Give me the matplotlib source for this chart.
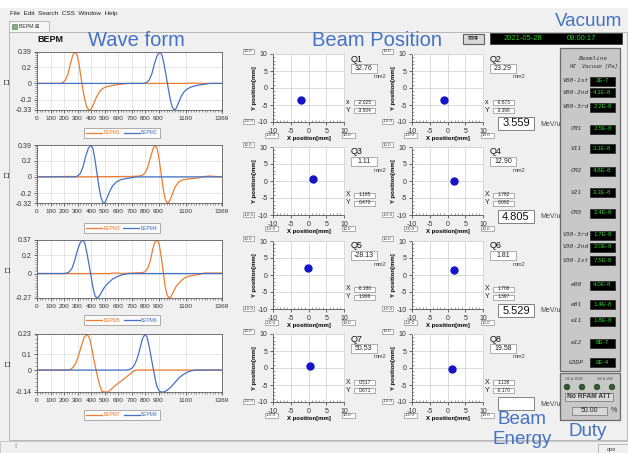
import matplotlib
matplotlib.use("Agg")
import matplotlib.pyplot as plt
from matplotlib.patches import Rectangle, Circle
from matplotlib.ticker import MultipleLocator

W, H = 628, 453

plt.rcParams['font.family'] = ['Liberation Sans', 'DejaVu Sans', 'Noto Sans CJK JP']
plt.rcParams['axes.unicode_minus'] = False

waveXMax = 1369
waveXTicks = [0, 100, 200, 300, 400, 500, 600, 700, 800, 900, 1100, 1369]

bepm1X = [0, 170, 190, 210, 230, 250, 265, 280, 295, 310, 325, 340, 355, 370, 385, 400, 420, 440, 460, 480, 500, 530, 560, 600, 640, 680, 1100, 1150, 1200, 1369]
bepm1Y = [0, 0, 0.01, 0.04, 0.12, 0.26, 0.35, 0.39, 0.36, 0.25, 0.08, -0.08, -0.21, -0.30, -0.33, -0.32, -0.25, -0.17, -0.11, -0.07, -0.05, -0.035, -0.025, -0.015, -0.005, 0, 0, 0.005, 0, 0]
bepm2X = [0, 790, 810, 830, 850, 870, 890, 910, 925, 940, 955, 970, 985, 1000, 1015, 1030, 1050, 1070, 1090, 1110, 1140, 1170, 1200, 1240, 1280, 1369]
bepm2Y = [0, 0, 0.01, 0.04, 0.12, 0.25, 0.35, 0.39, 0.35, 0.24, 0.10, -0.05, -0.19, -0.29, -0.33, -0.31, -0.23, -0.15, -0.10, -0.07, -0.045, -0.03, -0.02, -0.01, 0, 0]

bepm3X = [0, 250, 300, 700, 760, 780, 800, 820, 840, 860, 875, 890, 905, 920, 935, 950, 965, 980, 1000, 1020, 1050, 1080, 1120, 1160, 1200, 1240, 1280, 1320, 1369]
bepm3Y = [0, 0.005, 0, 0.005, 0.01, 0.02, 0.05, 0.12, 0.24, 0.35, 0.39, 0.34, 0.20, 0.02, -0.16, -0.28, -0.32, -0.30, -0.22, -0.13, -0.06, -0.035, -0.025, -0.02, -0.01, 0.005, 0.01, 0.005, 0]
bepm4X = [0, 280, 300, 320, 340, 360, 380, 400, 415, 430, 445, 460, 475, 490, 505, 520, 540, 560, 590, 620, 660, 700, 740, 1369]
bepm4Y = [0, 0, 0.01, 0.04, 0.12, 0.25, 0.35, 0.39, 0.34, 0.20, 0.03, -0.14, -0.26, -0.32, -0.31, -0.25, -0.17, -0.11, -0.06, -0.035, -0.02, -0.01, 0, 0]

bepm5X = [0, 540, 560, 600, 620, 700, 780, 800, 820, 840, 855, 870, 888, 903, 918, 933, 948, 963, 978, 990, 1010, 1030, 1060, 1090, 1120, 1160, 1200, 1240, 1369]
bepm5Y = [0, 0, 0.005, 0.005, 0, 0.005, 0.01, 0.02, 0.06, 0.15, 0.26, 0.34, 0.37, 0.33, 0.20, 0.03, -0.14, -0.24, -0.27, -0.26, -0.20, -0.14, -0.09, -0.05, -0.03, -0.02, -0.01, 0.005, 0.005]
bepm6X = [0, 200, 220, 240, 260, 280, 300, 320, 340, 355, 370, 385, 400, 415, 430, 445, 460, 480, 500, 530, 560, 600, 640, 680, 1369]
bepm6Y = [0, 0, 0.005, 0.02, 0.06, 0.15, 0.26, 0.34, 0.37, 0.33, 0.22, 0.10, -0.03, -0.16, -0.25, -0.27, -0.25, -0.20, -0.15, -0.10, -0.06, -0.03, -0.01, 0, 0]

bepm7X = [0, 230, 250, 270, 290, 310, 330, 350, 370, 390, 405, 420, 435, 450, 465, 480, 500, 525, 545, 570, 600, 630, 660, 690, 710, 730, 1369]
bepm7Y = [0, 0, 0.005, 0.02, 0.05, 0.10, 0.16, 0.21, 0.23, 0.20, 0.14, 0.07, 0.01, -0.05, -0.10, -0.135, -0.14, -0.14, -0.125, -0.105, -0.085, -0.065, -0.045, -0.025, -0.01, 0, 0]
bepm8X = [0, 660, 680, 700, 720, 740, 760, 780, 800, 815, 830, 845, 860, 875, 890, 905, 920, 940, 960, 990, 1020, 1050, 1080, 1110, 1140, 1170, 1369]
bepm8Y = [0, 0, 0.003, 0.01, 0.03, 0.07, 0.13, 0.20, 0.23, 0.21, 0.15, 0.08, 0.01, -0.06, -0.11, -0.135, -0.14, -0.14, -0.13, -0.11, -0.08, -0.05, -0.03, -0.015, -0.005, 0, 0]

waveNames = [("BEPM1", "BEPM2"), ("BEPM3", "BEPM4"), ("BEPM5", "BEPM6"), ("BEPM7", "BEPM8")]
waveSeries = [((bepm1X, bepm1Y), (bepm2X, bepm2Y)),
              ((bepm3X, bepm3Y), (bepm4X, bepm4Y)),
              ((bepm5X, bepm5Y), (bepm6X, bepm6Y)),
              ((bepm7X, bepm7Y), (bepm8X, bepm8Y))]
waveYTicks = [[0.39, 0.2, 0, -0.2, -0.33],
              [0.39, 0.2, 0, -0.2, -0.32],
              [0.37, 0.2, 0, -0.27],
              [0.23, 0.1, 0, -0.14]]

# --- beam position data ---
quadNames = ["Q1", "Q2", "Q3", "Q4", "Q5", "Q6", "Q7", "Q8"]
quadValues = ["32.76", "23.29", "1.11", "12.90", "-28.13", "1.81", "50.53", "19.58"]
beamX = [-2.025, -0.873, 1.185, 1.782, -0.180, 1.706, 0.517, 1.138]
beamY = [-3.504, -3.398, 0.470, 0.092, 1.996, 1.397, 0.671, -0.170]
beamEnergy = ["3.559", "4.805", "5.529", ""]

# --- vacuum data ---
vacNames = ["V00-1st", "V00-2nd", "V00-3rd", "CM1", "V11", "CM2", "V21", "CM3",
            "V30-3rd", "V30-2nd", "V30-1st", "e00", "e01", "e11", "e12", "G3DP"]
vacValues = ["2E-7", "4.1E-8", "2.2E-8", "2.5E-8", "3.1E-8", "4.8E-8", "3.3E-8", "2.4E-8",
             "1.7E-8", "2.0E-8", "7.5E-8", "4.0E-8", "1.4E-8", "1.8E-8", "8E-7", "6E-4"]
dutyValue = "50.00"

orange = '#ed7d31'
blue = '#4472c4'
titleBlue = '#4472c4'


def figRect(x, y, w, h):
    return [x / W, 1 - (y + h) / H, w / W, h / H]


fig = plt.figure(figsize=(W / 100, H / 100), dpi=100, facecolor='#f0f0f0')
bg = fig.add_axes([0, 0, 1, 1])
bg.set_xlim(0, W)
bg.set_ylim(H, 0)
bg.axis('off')


def box(x, y, w, h, face='white', edge='#a0a0a0', lw=0.6):
    bg.add_patch(Rectangle((x, y), w, h, facecolor=face, edgecolor=edge, lw=lw))


def txt(x, y, s, size, **kw):
    kw.setdefault('va', 'center')
    bg.text(x, y, s, fontsize=size, **kw)


# window frame
box(0, 0, W, 8, face='white', edge='none')
txt(10, 14, "File  Edit  Search  CSS  Window  Help", 4.6, color='#222222')
box(9, 32, 618, 408, face='#f0f0f0', edge='#b0b0b0')
box(9, 21, 40, 11, face='#f7f7f7', edge='#b0b0b0')
box(12, 24, 5, 5, face='#7fb27f', edge='#557755', lw=0.4)
txt(19, 27, "BEPM ⊠", 3.8, color='#333333')
box(0, 441, W, 12, face='#f0f0f0', edge='#c0c0c0')
box(598, 444, 30, 9, face='#f0f0f0', edge='#b0b0b0')
txt(607, 449, "ope", 4, color='#444444')
txt(13, 447, "⇧", 4, color='#888888')

# titles
txt(88, 40, "Wave form", 14.5, color=titleBlue)
txt(312, 40, "Beam Position", 14.5, color=titleBlue)
txt(555, 21, "Vacuum", 13.5, color=titleBlue)
txt(522, 420, "Beam", 13.5, color=titleBlue, ha='center')
txt(522, 440, "Energy", 13.5, color=titleBlue, ha='center')
txt(588, 431, "Duty", 13.5, color=titleBlue, ha='center')
txt(37, 39, "BEPM", 6.5, weight='bold', color='#111111')

# date / button
box(463, 34, 21, 10, face='#d8d8d8', edge='#606060', lw=0.8)
txt(473.5, 39, "取得", 4, ha='center', color='#222222')
box(490, 33, 132, 11, face='black', edge='#404040')
txt(523, 38.5, "2021-05-28", 5.5, ha='center', color='#22cc22')
txt(581, 38.5, "09:00:17", 5.5, ha='center', color='#22cc22')

# --- wave form plots ---
waveTop = [52, 145, 240, 334]
legendY = [133, 228, 320, 415]
for i in range(4):
    ax = fig.add_axes(figRect(37, waveTop[i], 185, 58))
    (ax1, ay1), (ax2, ay2) = waveSeries[i]
    ax.plot(ax1, ay1, color=orange, lw=0.9, label=waveNames[i][0])
    ax.plot(ax2, ay2, color=blue, lw=0.9, label=waveNames[i][1])
    yt = waveYTicks[i]
    ax.set_xlim(0, waveXMax)
    ax.set_ylim(min(yt), max(yt))
    ax.set_xticks(waveXTicks)
    ax.set_xticklabels([str(v) for v in waveXTicks])
    ax.set_yticks(yt)
    ax.set_yticklabels([("%g" % v) for v in yt])
    ax.xaxis.set_minor_locator(MultipleLocator(20))
    ax.yaxis.set_minor_locator(MultipleLocator(0.025))
    ax.tick_params(axis='x', which='major', labelsize=4.6)
    ax.tick_params(axis='y', which='major', labelsize=5)
    ax.tick_params(which='major', length=2.5, width=0.5, pad=1.5, colors='#333333')
    ax.tick_params(which='minor', length=1.2, width=0.4, colors='#555555')
    ax.grid(True, which='major', color='#dcdcdc', lw=0.5)
    for s in ax.spines.values():
        s.set_color('#606060')
        s.set_linewidth(0.6)
    ax.set_ylabel("□", fontsize=6, labelpad=2)
    leg = ax.legend(loc='center', bbox_to_anchor=(122 / W, 1 - legendY[i] / H),
                    bbox_transform=fig.transFigure, ncol=2, fontsize=3.6,
                    frameon=True, fancybox=False, edgecolor='#8a8a8a',
                    handlelength=3.2, borderpad=0.5, columnspacing=0.6,
                    handletextpad=0.3)
    leg.get_frame().set_linewidth(0.6)
    for t, c in zip(leg.get_texts(), [orange, blue]):
        t.set_color(c)

# --- beam position plots ---
beamTop = [54, 147, 241, 334]
beamLeft = [273, 412]
for k in range(8):
    row, col = k // 2, k % 2
    left, top = beamLeft[col], beamTop[row]
    ax = fig.add_axes(figRect(left, top, 71, 68))
    ax.plot([beamX[k]], [beamY[k]], 'o', color='#1414c8', ms=5)
    ax.set_xlim(-10, 10)
    ax.set_ylim(-10, 10)
    ax.set_xticks([-10, -5, 0, 5, 10])
    ax.set_yticks([-10, -5, 0, 5, 10])
    ax.xaxis.set_minor_locator(MultipleLocator(1))
    ax.yaxis.set_minor_locator(MultipleLocator(1))
    ax.tick_params(which='major', labelsize=5, length=2.5, width=0.5, pad=1.5, colors='#333333')
    ax.tick_params(which='minor', length=1.5, width=0.4, direction='in', colors='#555555')
    ax.grid(True, which='major', color='#d4d4d4', lw=0.6)
    for name, s in ax.spines.items():
        s.set_linewidth(0.6)
        s.set_color('#555555' if name in ('left', 'bottom') else '#d4d4d4')
    ax.set_xlabel("X position[mm]", fontsize=4.3, weight='bold', labelpad=1)
    ax.set_ylabel("Y position[mm]", fontsize=4.3, weight='bold', labelpad=0.5)

    # limit boxes
    box(left - 30, top - 5, 11, 5)
    txt(left - 29.5, top - 2.5, "10.0", 3.2, color='#333333')
    box(left - 30, top + 65, 11, 5)
    txt(left - 29.5, top + 67.5, "-10.0", 3.2, color='#333333')
    box(left - 8, top + 79, 13, 5)
    txt(left - 7.5, top + 81.5, "-10.0", 3.2, color='#333333')
    box(left + 69, top + 79, 13, 5)
    txt(left + 69.5, top + 81.5, "10.0", 3.2, color='#333333')

    # Q value, emittance, position
    txt(left + 78, top + 5, quadNames[k], 6.5, color='#111111')
    box(left + 78, top + 10, 26, 9)
    txt(left + 91, top + 14.5, quadValues[k], 5, ha='center', color='#222222')
    txt(left + 107, top + 23, "mm2", 4.2, ha='center', color='#444444')
    xl = "x" if row == 0 else "X"
    txt(left + 75, top + 48, xl, 5, ha='center', color='#222222')
    box(left + 81, top + 45.5, 21, 5)
    txt(left + 91.5, top + 48, "%.3f" % beamX[k], 3.5, ha='center', color='#222222')
    txt(left + 75, top + 56, "Y", 5, ha='center', color='#222222')
    box(left + 81, top + 53.5, 21, 5)
    txt(left + 91.5, top + 56, "%.3f" % beamY[k], 3.5, ha='center', color='#222222')

# beam energy boxes
for r in range(4):
    top = beamTop[r]
    box(498, top + 63, 36, 13, edge='#808080', lw=0.7)
    txt(516, top + 69.5, beamEnergy[r], 8, ha='center', color='#111111')
    txt(540, top + 70, "MeV/u", 5, color='#444444')

# --- vacuum panel ---
vacRowY = [81, 92, 107, 129, 148, 171, 192, 213, 235, 247, 260, 285, 304, 321, 343, 362]
box(560, 48, 60, 323, face='#c8c8c8', edge='#6a6a6a', lw=0.9)
txt(593, 58, "Beamline", 4.3, ha='center', style='italic', color='#333333', family='DejaVu Sans Mono')
txt(593, 66, "HZ  Vacuum [Pa]", 4, ha='center', style='italic', color='#333333', family='DejaVu Sans Mono')
for name, val, y in zip(vacNames, vacValues, vacRowY):
    txt(576, y, name, 4.5, ha='center', style='italic', color='#333333', family='DejaVu Sans Mono')
    box(590, y - 4.5, 25, 9, face='black', edge='#303030')
    txt(602.5, y, val, 4.5, ha='center', color='#33cc33')

# --- duty panel ---
box(560, 373, 60, 47, face='#c8c8c8', edge='#6a6a6a', lw=0.9)
txt(574, 379, "1/1 & 1/100", 2.4, ha='center', color='#333333')
txt(605, 379, "1/5 & 1/50", 2.4, ha='center', color='#333333')
for cx in [567, 582, 597, 612]:
    bg.add_patch(Circle((cx, 387), 2.8, facecolor='#2f5f2f', edgecolor='#1c3a1c', lw=0.5))
box(565, 393, 48, 8, face='#d8d8d8', edge='#808080')
txt(589, 397, "No RFAM ATT", 4.8, ha='center', weight='bold', color='#333333')
box(572, 407, 35, 8, face='#d8d8d8', edge='#808080')
txt(589.5, 411, dutyValue, 5, ha='center', color='#222222')
txt(611, 411, "%", 5, color='#333333')

fig.savefig("out.png", dpi=100, facecolor=fig.get_facecolor())
